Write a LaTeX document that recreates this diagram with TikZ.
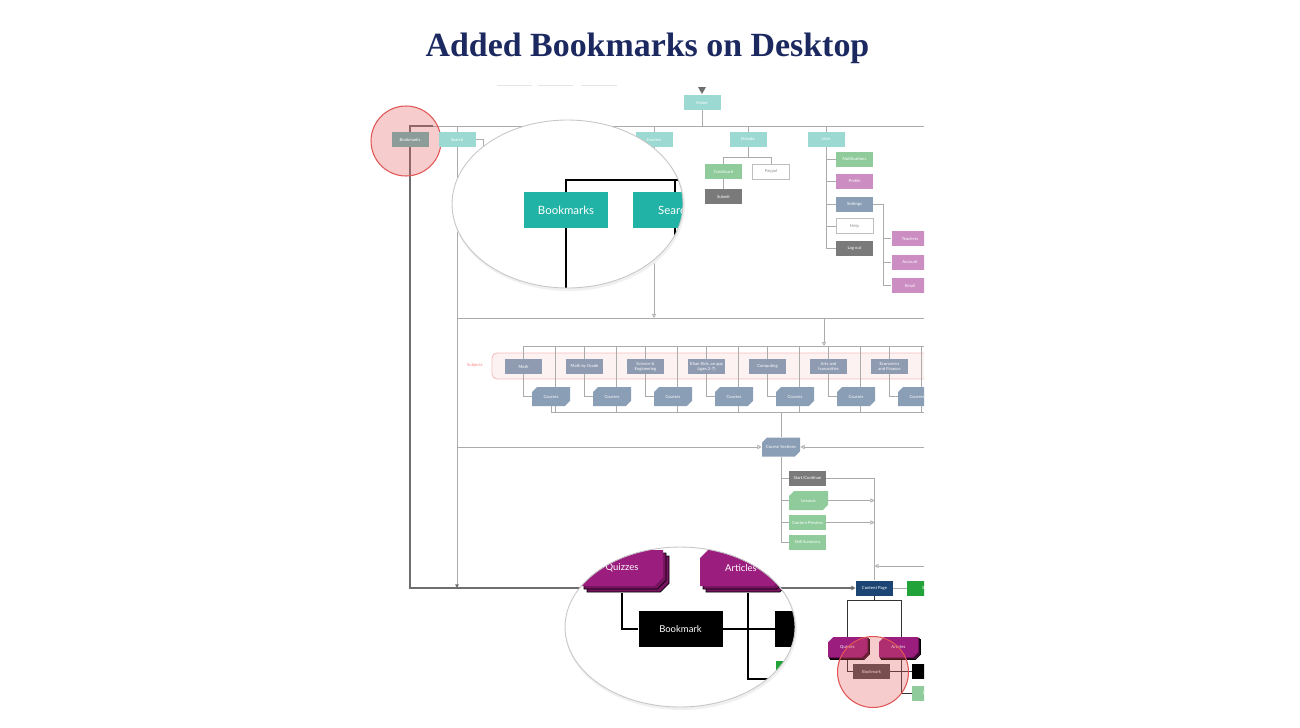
\documentclass[tikz,border=0pt]{standalone}
\usepackage{fontspec}
\setmainfont{Liberation Serif}
\newfontfamily\latofont{Lato}
\usetikzlibrary{arrows.meta,shapes.misc,shadows,backgrounds,positioning,calc}

\definecolor{titleblue}{HTML}{1B2960}
\definecolor{lteal}{HTML}{9DD9D3}
\definecolor{bmgray}{HTML}{8C9C99}
\definecolor{lgreen}{HTML}{8FCB9B}
\definecolor{dgray}{HTML}{7A7A7A}
\definecolor{lpink}{HTML}{CB8DC2}
\definecolor{slate}{HTML}{8A9EB6}
\definecolor{subjgray}{HTML}{8E9BB1}
\definecolor{pageblue}{HTML}{1D4574}
\definecolor{sitegreen}{HTML}{22A33A}
\definecolor{purp}{HTML}{9B1D7E}
\definecolor{purpdark}{HTML}{761460}
\definecolor{bigteal}{HTML}{21B3A6}
\definecolor{linegray}{HTML}{ABABAB}
\definecolor{darkline}{HTML}{6E6E6E}
\definecolor{marker}{HTML}{E05555}
\definecolor{bandpink}{HTML}{F6BDBD}

\newcommand\boxfont{\latofont\fontsize{2.4}{2.75}\selectfont}

\tikzset{
  box/.style={rectangle, inner sep=0pt, minimum width=0.74cm, minimum height=0.3cm, font=\boxfont, text=white, align=center},
  tealbox/.style={box, fill=lteal},
  greenbox/.style={box, fill=lgreen},
  graybox/.style={box, fill=dgray},
  pinkbox/.style={box, fill=lpink},
  slatebox/.style={box, fill=slate},
  whitebox/.style={box, fill=white, draw=black!25, line width=0.3pt, text=black!45},
  % the picture's y axis points down, so these corners show as top right and bottom left
  chamf/.style={chamfered rectangle, chamfered rectangle corners={south east,north west}, chamfered rectangle xsep=0.07cm, chamfered rectangle ysep=0.07cm},
  subjbox/.style={box, fill=subjgray},
  coursebox/.style={box, chamf, fill=slate, minimum width=0.76cm, minimum height=0.38cm},
  purpbox/.style={box, chamf, fill=purp, minimum width=0.78cm, minimum height=0.4cm, double copy shadow={shadow xshift=0.025cm, shadow yshift=-0.025cm, fill=purpdark}},
  bigpurp/.style={bigbox, chamf, chamfered rectangle xsep=0.09cm, chamfered rectangle ysep=0.09cm, fill=purp, minimum width=1.64cm, font=\latofont\fontsize{5.4}{6}\selectfont, double copy shadow={shadow xshift=0.06cm, shadow yshift=-0.06cm, fill=purpdark}},
  link/.style={draw=linegray, line width=0.45pt},
  darklink/.style={draw=darkline, line width=0.75pt},
  thinblack/.style={draw=black!80, line width=0.55pt},
  bigline/.style={draw=black, line width=1pt},
  arr/.style={-{Triangle[open, length=2.4pt, width=2.4pt]}},
  lens/.style={draw=black!22, line width=0.5pt},
  bigbox/.style={rectangle, inner sep=0pt, minimum width=1.68cm, minimum height=0.72cm, text=white, font=\latofont\fontsize{6.5}{7}\selectfont},
}

\begin{document}
\begin{tikzpicture}[x=0.02cm, y=-0.02cm]
\useasboundingbox (0,0) rectangle (1300,727);
\node[anchor=base, font=\bfseries\fontsize{19.3}{22}\selectfont, text=titleblue] (title) at (647.5,56) {Added Bookmarks on Desktop};

\begin{scope}
\clip (360,78) rectangle (924,715);
% marker behind the old menu entry
\draw[marker, line width=0.6pt, fill=marker, fill opacity=0.3] (406,141) circle [radius=0.7cm];

% faint menu stubs
\foreach \a/\b in {497/532, 538/573, 581/617}
  \draw[black!10, line width=0.5pt] (\a,85) -- (\b,85);

% top row
\fill[darkline] (698,87) -- (706,87) -- (702,94) -- cycle;
\node[tealbox] (home) at (702,102.5) {Home};
\node[box, fill=bmgray] (bookmarks) at (410,139.5) {Bookmarks};
\node[tealbox] (search) at (457,139.5) {Search};
\node[tealbox] (courses) at (654,139.5) {Courses};
\node[tealbox] (donate) at (748,139.5) {Donate};
\node[tealbox] (user) at (826,139.5) {User};

\node[greenbox] (credit) at (723.5,171.5) {Creditcard};
\node[whitebox] (paypal) at (771,171.5) {Paypal};
\node[graybox] (submit) at (723.5,196.5) {Submit};

\node[greenbox] (notif) at (854.5,159) {Notifications};
\node[pinkbox] (profile) at (854.5,181) {Profile};
\node[slatebox] (settings) at (854.5,204) {Settings};
\node[whitebox] (help) at (854.5,226) {Help};
\node[graybox] (logout) at (854.5,248) {Log out};
\node[pinkbox] (teachers) at (910,238.5) {Teachers};
\node[pinkbox] (account) at (910,262) {Account};
\node[pinkbox] (email) at (910,285.5) {Email};

% subjects
\node[font=\boxfont, text=bandpink!70!red] (subjlabel) at (475,365.5) {Subjects};
\foreach \i/\txt in {0/Math, 1/Math by Grade, 2/{Science \&\\Engineering}, 3/{Khan Kids, an app\\(ages 2-7)}, 4/Computing, 5/{Arts and\\humanities}, 6/{Economics\\and Finance}} {
  \node[subjbox] (subj\i) at (523.5+61*\i,366.5) {\txt};
  \node[coursebox] (crs\i) at (551+61*\i,396.5) {Courses};
}

% course sections
\node[coursebox] (sections) at (781,447) {Course Sections};
\node[graybox] (start) at (807.5,478.5) {Start/Continue};
\node[box, chamf, fill=lgreen, minimum width=0.78cm, minimum height=0.38cm] (lessons) at (808.5,500.5) {Lessons};
\node[greenbox] (preview) at (807.5,522.5) {Content Preview};
\node[greenbox] (skill) at (807.5,542) {Skill Summary};

% content page
\node[box, fill=pageblue] (cpage) at (874.5,588) {Content Page};
\node[box, fill=sitegreen] (site) at (925.5,588) {Site};
\node[purpbox] (quiz) at (847.5,647) {Quizzes};
\node[purpbox] (article) at (898.5,647) {Articles};
\node[box, fill=black!70] (bmsmall) at (871.5,671.5) {Bookmark};
\node[box, fill=black] (blacksmall) at (930.5,671.5) {};
\node[greenbox] (greensmall) at (930.5,693) {Content};

\begin{scope}[on background layer]
\clip (360,78) rectangle (924,715);
\draw[bandpink, fill=bandpink!20, rounded corners=0.1cm, line width=0.5pt] (492,353) rectangle (950,379);
% main bus
\coordinate (busend) at (924,126);
\coordinate (bmjoint) at (433,126);
\draw[link] (bmjoint) -- (busend);
\draw[link] (home) -- (home |- busend);
\foreach \n in {search,courses,donate,user}
  \draw[link] (\n.north |- busend) -- (\n.north);
\draw[darklink] (bmjoint) -| (bookmarks.north);
\draw[darklink, arr] (bookmarks.south) |- (cpage.west);
\draw[link, -{Triangle[length=2pt, width=2pt, color=darkline]}] (search.south) -- (search.south |- cpage.west);
\draw[link] (search.east) -- ++(8,0) -- ++(0,60);

% down to the subjects
\coordinate (midbus) at (924,318);
\coordinate (drop) at (824,318);
\coordinate (subjbus) at (924,346);
\coordinate (lowbus) at (924,412);
\draw[link] (search.south |- midbus) -- (midbus);
\draw[link, arr] (courses.south) -- (courses.south |- midbus);
\draw[link, arr] (drop) -- (drop |- subjbus);
\draw[link] (subj0.north |- subjbus) -- (subjbus);

% donate
\draw[link] (donate.south) -- ++(0,10) coordinate (dj) -| (credit.north);
\draw[link] (dj) -| (paypal.north);
\draw[link] (credit) -- (submit);

% user
\draw[link] (user.south) |- (logout.west);
\foreach \n in {notif,profile,settings,help}
  \draw[link] (user.south |- \n.west) -- (\n.west);
\draw[link] (settings.east) -- ++(10,0) coordinate (sj) |- (email.west);
\foreach \n in {teachers,account}
  \draw[link] (sj |- \n.west) -- (\n.west);

% subjects to courses
\foreach \i in {0,...,6} {
  \path ($(crs\i.north)+(4,0)$) coordinate (cr\i);
  \draw[link] (subj\i.north |- subjbus) -- (subj\i.north);
  \draw[link] (subj\i.south) |- (crs\i.west);
  \draw[link] (cr\i |- subjbus) -- (cr\i |- lowbus);
}
\draw[link] (crs0.south) -- (crs0.south |- lowbus) -- (lowbus);
\draw[link] (sections.north |- lowbus) -- (sections.north);
\draw[link, arr] (search.south |- sections.west) -- (sections.west);
\draw[link, arr] (sections.east -| busend) -- (sections.east);

% course sections
\draw[link] (sections.south) |- (skill.west);
\foreach \n in {start,lessons,preview}
  \draw[link] (sections.south |- \n.west) -- (\n.west);
\draw[link] (start.east) -| (cpage.north);
\foreach \n in {lessons,preview}
  \draw[link, arr] (\n.east) -- (\n.east -| cpage.north);
\coordinate (backin) at (924,566);
\draw[link, arr] (backin) -- (cpage.north |- backin);

% content page
\draw[link] (cpage) -- (site);
\coordinate (cpj) at ($(cpage.south)+(0,5)$);
\coordinate (rj) at (901,693);
\draw[thinblack] (cpage.south) -- (cpj) -| (quiz.north);
\draw[thinblack] (cpj) -| (rj) -- (greensmall.west);
\draw[thinblack] (quiz.south) |- (bmsmall.west);
\draw[thinblack] (bmsmall) -- (blacksmall);
\end{scope}

% lens over the top menu
\fill[black!6] (568.5,206) ellipse [x radius=2.33cm, y radius=1.70cm];
\fill[white] (567.5,204) ellipse [x radius=2.31cm, y radius=1.68cm];
\begin{scope}
\clip (567.5,204) ellipse [x radius=2.31cm, y radius=1.68cm];
\node[bigbox, fill=bigteal] (bigbm) at (566,210) {Bookmarks};
\node[bigbox, fill=bigteal] (bigsearch) at (675,210) {Search};
\coordinate (bigend) at (720,180);
\draw[bigline] (bigbm.north) |- (bigend);
\draw[bigline] (bigsearch.north) -- (bigsearch.north |- bigend);
\draw[bigline] (bigbm.south) -- ++(0,80);
\draw[bigline] (bigsearch.south) -- ++(0,30);
\end{scope}
\draw[lens] (567.5,204) ellipse [x radius=2.31cm, y radius=1.68cm];

% lens over the content page
\fill[black!6] (681,629) ellipse [x radius=2.32cm, y radius=1.62cm];
\fill[white] (680,627) ellipse [x radius=2.30cm, y radius=1.60cm];
\begin{scope}
\clip (680,627) ellipse [x radius=2.30cm, y radius=1.60cm];
\node[bigpurp] (bigquiz) at (622,568) {Quizzes};
\node[bigpurp] (bigarticle) at (741,568) {Articles};
\node[bigbox, fill=black, font=\latofont\fontsize{5.4}{6}\selectfont] (bigbm2) at (680.5,629) {Bookmark};
\node[bigbox, fill=black] (bigblack) at (817,629) {};
\node[bigbox, fill=sitegreen] (biggreen) at (818,679) {};
\draw[bigline] ($(bigquiz.south)+(0,7)$) |- (bigbm2.west);
\draw[bigline] (bigbm2) -- (bigblack);
\draw[bigline] ($(bigarticle.south)+(7,7)$) |- (biggreen.west);
\end{scope}
\draw[lens] (680,627) ellipse [x radius=2.30cm, y radius=1.60cm];

% marker over the new entry
\draw[marker, line width=0.6pt, fill=marker, fill opacity=0.3] (873,672) circle [radius=0.71cm];
\end{scope}
\end{tikzpicture}
\end{document}
